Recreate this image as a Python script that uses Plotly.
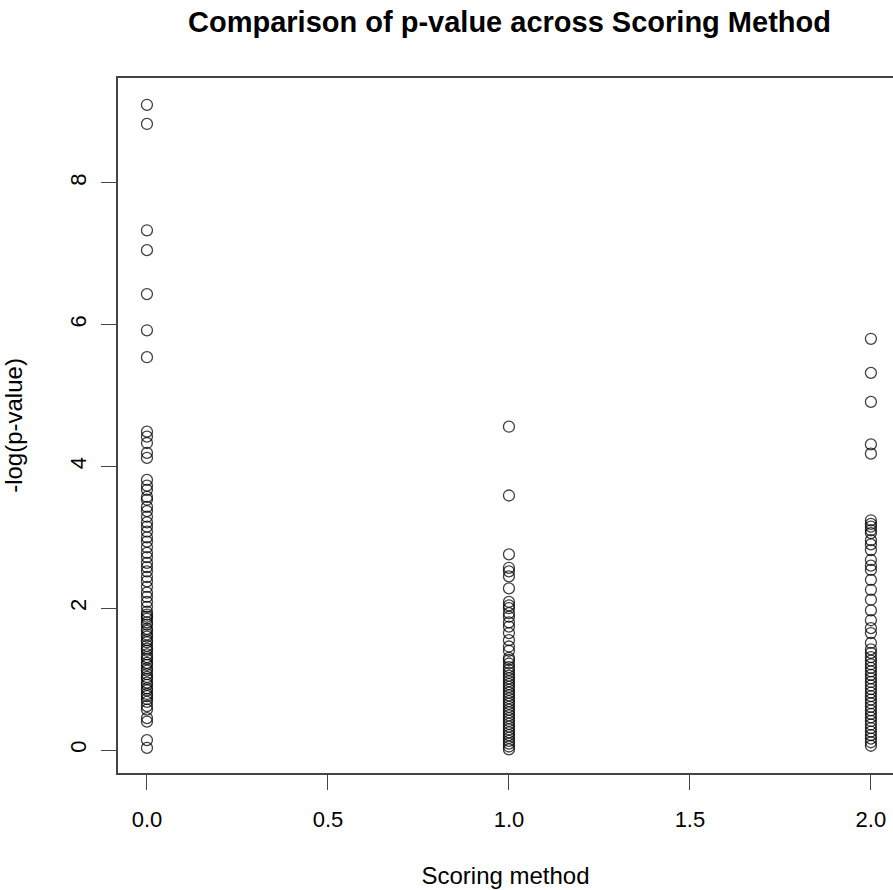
import plotly.graph_objects as go

# -log(p-value) for each scoring method
method0 = [9.10, 8.83, 7.33, 7.05, 6.43, 5.92, 5.54, 4.49, 4.42, 4.33, 4.19, 4.12,
           3.81, 3.73, 3.67, 3.57, 3.53, 3.43, 3.37, 3.29, 3.21, 3.15, 3.08, 3.00,
           2.94, 2.86, 2.78, 2.72, 2.64, 2.58, 2.52, 2.44, 2.38, 2.30, 2.22, 2.16,
           2.09, 2.02, 1.95, 1.91, 1.88, 1.85, 1.80, 1.77, 1.71, 1.68, 1.63, 1.60,
           1.55, 1.52, 1.47, 1.43, 1.40, 1.35, 1.31, 1.28, 1.23, 1.20, 1.15, 1.12,
           1.07, 1.03, 1.00, 0.95, 0.92, 0.87, 0.84, 0.79, 0.76, 0.72, 0.68, 0.62,
           0.57, 0.45, 0.40, 0.14, 0.03]
method1 = [4.56, 3.59, 2.76, 2.57, 2.52, 2.45, 2.28, 2.09, 2.04, 2.00, 1.93, 1.88,
           1.80, 1.74, 1.65, 1.55, 1.46, 1.40, 1.30, 1.27, 1.22, 1.17, 1.13, 1.09,
           1.05, 1.01, 0.97, 0.93, 0.89, 0.85, 0.81, 0.77, 0.73, 0.69, 0.65, 0.61,
           0.57, 0.53, 0.49, 0.45, 0.41, 0.37, 0.33, 0.29, 0.25, 0.21, 0.17, 0.13,
           0.09, 0.05, 0.01]
method2 = [5.80, 5.32, 4.91, 4.31, 4.18, 3.24, 3.19, 3.15, 3.10, 3.06, 2.96, 2.90,
           2.82, 2.68, 2.60, 2.54, 2.40, 2.26, 2.12, 1.97, 1.83, 1.72, 1.65, 1.51,
           1.42, 1.37, 1.31, 1.26, 1.21, 1.16, 1.11, 1.06, 1.01, 0.96, 0.91, 0.86,
           0.81, 0.76, 0.71, 0.66, 0.61, 0.56, 0.51, 0.46, 0.41, 0.36, 0.31, 0.26,
           0.21, 0.16, 0.11, 0.06]
methods = [0, 1, 2]
x_ticks = [0.0, 0.5, 1.0, 1.5, 2.0]
x_ticklabels = ["0.0", "0.5", "1.0", "1.5", "2.0"]
y_ticks = [0, 2, 4, 6, 8]

xs, ys = [], []
for m, vals in zip(methods, [method0, method1, method2]):
    xs += [m] * len(vals)
    ys += vals

FONT = "Liberation Sans, Arial, sans-serif"

fig = go.Figure(go.Scatter(
    x=xs, y=ys, mode="markers",
    marker=dict(symbol="circle-open", size=11, color="rgba(0,0,0,0.75)",
                line=dict(width=1.3, color="rgba(0,0,0,0.75)")),
    showlegend=False, hoverinfo="x+y",
))

fig.update_layout(
    width=893, height=890,
    margin=dict(l=118, r=0, t=78, b=117),
    paper_bgcolor="white", plot_bgcolor="white",
    font=dict(family=FONT, size=22, color="black"),
    title=dict(text="<b>Comparison of p-value across Scoring Method</b>",
               x=(118 + 901) / 2 / 893, xanchor="center", y=1 - 22 / 890, yanchor="middle",
               font=dict(family=FONT, size=29, color="black")),
    xaxis=dict(range=[-0.08, 2.061], tickvals=x_ticks, ticktext=x_ticklabels,
               showgrid=False, zeroline=False, showline=True, linecolor="#444",
               linewidth=1.5, mirror=True, ticks="outside", ticklen=15, tickwidth=1,
               tickcolor="#444", ticklabelstandoff=11, tickfont=dict(size=22),
               title=dict(text="Scoring method", standoff=36, font=dict(size=24))),
    yaxis=dict(range=[-0.324, 9.478], tickvals=y_ticks,
               showgrid=False, zeroline=False, showline=True, linecolor="#444",
               linewidth=1.5, mirror=False, ticks="outside", ticklen=15, tickwidth=1,
               tickcolor="#444", tickangle=-90, ticklabelstandoff=6, tickfont=dict(size=22),
               title=dict(text="-log(p-value)", standoff=39, font=dict(size=24))),
)

fig.write_html("out.html")
